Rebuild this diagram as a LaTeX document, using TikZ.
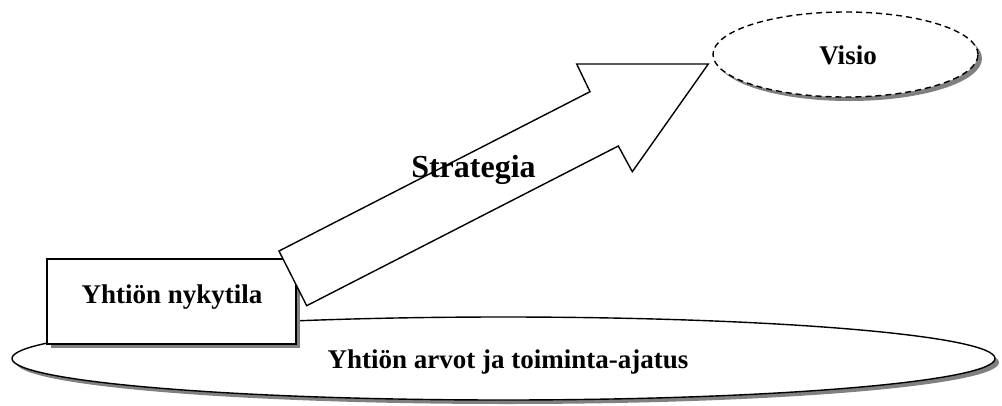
\documentclass[tikz,border=0pt]{standalone}
\usepackage{fontspec}
\setmainfont{Liberation Serif}
\usetikzlibrary{shapes.geometric,shadows}
\definecolor{shadowgray}{HTML}{808080}
\tikzset{
  shad/.style={drop shadow={shadow xshift=4pt,shadow yshift=-4pt,fill=shadowgray,opacity=1}},
  outline/.style={draw=black,line width=1.4pt,fill=white},
  bigell/.style={outline,shad,ellipse,inner sep=0pt,minimum width=983pt,minimum height=83pt},
  visell/.style={outline,shad,ellipse,dash pattern=on 6pt off 4pt,inner sep=0pt,minimum width=265pt,minimum height=85pt},
  statebox/.style={outline,shad,rectangle,inner sep=0pt,minimum width=249pt,minimum height=85pt},
  arrowshape/.style={draw=black,line width=1.4pt,fill=white,line join=miter},
  txt/.style={font=\bfseries\fontsize{27}{32}\selectfont,inner sep=0pt,anchor=base},
  bigtxt/.style={font=\bfseries\fontsize{32}{38}\selectfont,inner sep=0pt,anchor=base},
}
\begin{document}
\begin{tikzpicture}[x=1pt,y=-1pt]
\useasboundingbox (0,0) rectangle (1002,405);
\node[bigell] (base) at (503.5,358.5) {};
\node[txt] (basetxt) at (508,368) {Yhtiön arvot ja toiminta-ajatus};
\node[statebox] (now) at (171.5,301.5) {};
\node[txt] (nowtxt) at (172,303) {Yhtiön nykytila};
\draw[arrowshape] (306.7,305.7) -- (279,251) -- (590,91.7) -- (576.7,64) -- (708.3,64) -- (632.3,171.7) -- (618.3,146) -- cycle;
\node[bigtxt] (strat) at (473.5,177) {Strategia};
\node[visell] (vis) at (845.5,54.5) {};
\node[txt] (vistxt) at (848,64) {Visio};
\end{tikzpicture}
\end{document}
